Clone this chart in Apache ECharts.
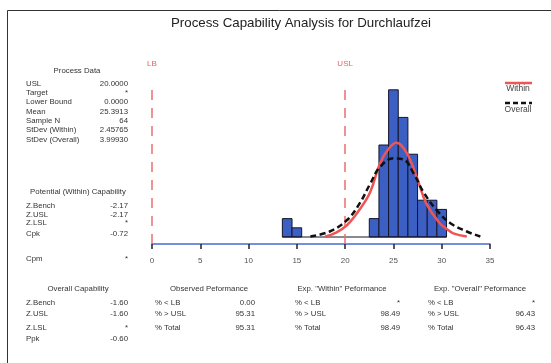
<!DOCTYPE html>
<html>
<head>
<meta charset="utf-8">
<script src="https://cdn.jsdelivr.net/npm/echarts@6/dist/echarts.min.js"></script>
<style>
  html, body { margin: 0; padding: 0; background: #fff; }
  #chart { width: 551px; height: 363px; }
</style>
</head>
<body>
<div id="chart"></div>
<script>
// histogram bins (centre, count), width 1
const binCenters = [14, 15, 23, 24, 25, 26, 27, 28, 29, 30];
const binCounts = [2, 1, 2, 10, 16, 13, 9, 4, 4, 3];
const binWidth = 1;

// fitted curves (x, expected count)
const withinX = [17.9, 19.0, 20.2, 21.5, 22.6, 23.6, 24.5, 25.3, 26.4, 27.4, 28.4, 29.8, 30.5, 31.2, 32.6];
const withinY = [0.02, 0.45, 1.3, 3.0, 4.9, 8.0, 9.6, 10.25, 9.1, 6.55, 3.65, 1.5, 0.9, 0.4, 0.05];
const overallX = [16.4, 18.4, 20.2, 21.5, 22.6, 23.6, 25.0, 26.0, 27.1, 28.1, 29.5, 30.9, 32.6, 34.0];
const overallY = [0.05, 0.6, 1.85, 3.65, 5.8, 7.6, 8.55, 8.45, 6.9, 4.9, 2.9, 1.5, 0.6, 0.05];

const specNames = ["LB", "USL"];
const specValues = [0, 20];
const xTicks = [0, 5, 10, 15, 20, 25, 30, 35];

// side tables
const processData = [
  ["USL", "20.0000"], ["Target", "*"], ["Lower Bound", "0.0000"], ["Mean", "25.3913"],
  ["Sample N", "64"], ["StDev (Within)", "2.45765"], ["StDev (Overall)", "3.99930"]
];
const potentialCap = [["Z.Bench", "-2.17"], ["Z.USL", "-2.17"], ["Z.LSL", "*"], ["Cpk", "-0.72"], ["Cpm", "*"]];
const overallCap = [["Z.Bench", "-1.60"], ["Z.USL", "-1.60"], ["Z.LSL", "*"], ["Ppk", "-0.60"]];
const observedPerf = [["% < LB", "0.00"], ["% > USL", "95.31"], ["% Total", "95.31"]];
const withinPerf = [["% < LB", "*"], ["% > USL", "98.49"], ["% Total", "98.49"]];
const overallPerf = [["% < LB", "*"], ["% > USL", "96.43"], ["% Total", "96.43"]];

const chart = echarts.init(document.getElementById("chart"));
const FONT = "Liberation Sans, Arial, sans-serif";

function txt(text, x, y, align, size, color) {
  return {
    type: "text",
    style: {
      text: text, x: x, y: y,
      textAlign: align, textVerticalAlign: "middle",
      font: (size || 7.8) + "px " + FONT,
      fill: color || "#333"
    }
  };
}

function table(rows, labelX, valueX, ys) {
  const out = [];
  rows.forEach((r, i) => {
    out.push(txt(r[0], labelX, ys[i], "left"));
    out.push(txt(r[1], valueX, ys[i], "right"));
  });
  return out;
}

const graphics = [
  { type: "rect", shape: { x: 7.5, y: 10.5, width: 600, height: 400 }, style: { fill: "none", stroke: "#333", lineWidth: 1 } },
  txt("Process Capability Analysis for Durchlaufzei", 301, 23, "center", 13.3, "#222"),
  txt("Process Data", 77, 71, "center"),
  ...table(processData, 26, 128, [84, 93, 102, 112, 121, 130, 140]),
  txt("Potential (Within) Capability", 78, 192, "center"),
  ...table(potentialCap, 26, 128, [206, 215, 223, 234, 259]),
  txt("Overall Capability", 78, 289, "center"),
  ...table(overallCap, 26, 128, [303, 314, 328, 339]),
  txt("Observed Peformance", 209, 289, "center"),
  ...table(observedPerf, 155, 255, [303, 314, 328]),
  txt("Exp. \"Within\" Peformance", 342, 289, "center"),
  ...table(withinPerf, 295, 400, [303, 314, 328]),
  txt("Exp. \"Overall\" Peformance", 480, 289, "center"),
  ...table(overallPerf, 428, 535, [303, 314, 328]),
  // legend
  { type: "line", shape: { x1: 505, y1: 83, x2: 532, y2: 83 }, style: { stroke: "#f05555", lineWidth: 2.5 } },
  txt("Within", 518, 89, "center", 8.5, "#444"),
  { type: "line", shape: { x1: 505, y1: 103, x2: 532, y2: 103 }, style: { stroke: "#111", lineWidth: 2.5, lineDash: [5, 3] } },
  txt("Overall", 518, 110, "center", 8.5, "#444")
];

const bins = binCenters.map((c, i) => [c - binWidth / 2, c + binWidth / 2, binCounts[i]]);

chart.setOption({
  animation: false,
  textStyle: { fontFamily: FONT },
  grid: { left: 152, right: 61, top: 82, bottom: 119 },
  xAxis: {
    type: "value",
    min: 0,
    max: 35,
    interval: 5,
    axisLine: { onZero: false, lineStyle: { color: "#4a6bd0", width: 1.5 } },
    axisTick: { length: 5, lineStyle: { color: "#222", width: 1.5 } },
    axisLabel: { color: "#555", fontSize: 8, margin: 13, customValues: xTicks },
    splitLine: { show: false }
  },
  yAxis: { type: "value", show: false, min: -0.76, max: 16.85 },
  series: [
    {
      type: "custom",
      name: "Histogram",
      data: bins,
      encode: { x: [0, 1], y: 2 },
      renderItem: function (params, api) {
        const p0 = api.coord([api.value(0), api.value(2)]);
        const p1 = api.coord([api.value(1), 0]);
        return {
          type: "rect",
          shape: { x: p0[0], y: p0[1], width: p1[0] - p0[0], height: p1[1] - p0[1] },
          style: { fill: "#3c5fc4", stroke: "#15152a", lineWidth: 1 }
        };
      },
      z: 2
    },
    {
      type: "line",
      name: "base",
      data: [[bins[0][0], 0], [bins[bins.length - 1][1], 0]],
      symbol: "none",
      lineStyle: { color: "#15152a", width: 1 },
      z: 3,
      markLine: {
        silent: true,
        symbol: "none",
        lineStyle: { color: "#e87070", type: [10, 8], width: 1.5 },
        label: { position: "end", formatter: "{b}", color: "#e06666", fontSize: 8, distance: 14 },
        data: specValues.map((v, i) => ({ xAxis: v, name: specNames[i] }))
      }
    },
    {
      type: "line",
      name: "Within",
      data: withinX.map((x, i) => [x, withinY[i]]),
      smooth: 0.4,
      symbol: "none",
      lineStyle: { color: "#f05555", width: 2.5 },
      z: 4
    },
    {
      type: "line",
      name: "Overall",
      data: overallX.map((x, i) => [x, overallY[i]]),
      smooth: 0.4,
      symbol: "none",
      lineStyle: { color: "#111", width: 2.5, type: [6, 3.5] },
      z: 5
    }
  ],
  graphic: graphics
});
</script>
</body>
</html>
